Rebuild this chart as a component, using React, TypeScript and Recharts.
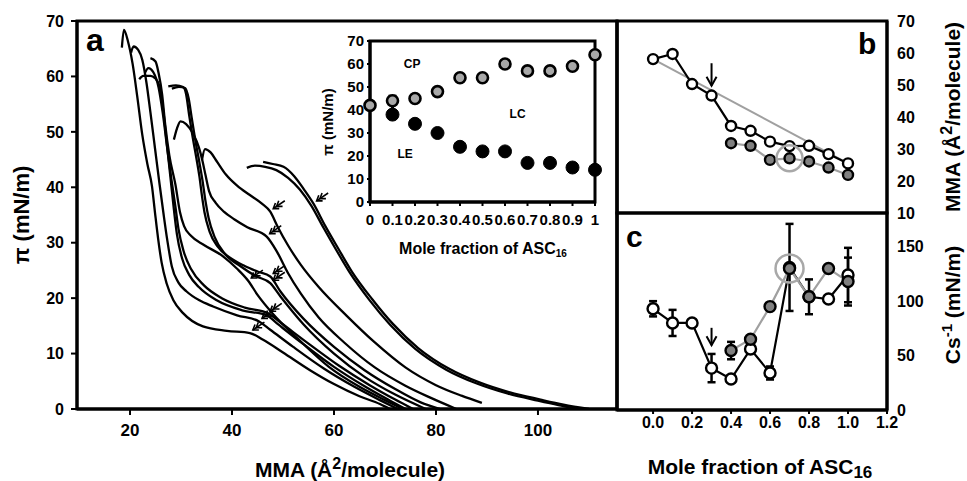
import React from "react";
import { LineChart, Line, XAxis, YAxis, ReferenceDot, ReferenceLine, ReferenceArea, ErrorBar } from "recharts";

// panel a: surface pressure–area isotherms, [MMA, pi]
const iso1 = [[18.4, 65.2], [18.8, 68.4], [19.6, 66.3], [20.5, 62.3], [21.4, 56.5], [22.4, 49.5], [23.4, 44.2], [24.3, 40.2], [24.9, 35.4], [25.5, 30.8], [26.2, 26.4], [27.2, 22.6], [28.5, 19.6], [30.4, 17.3], [34.3, 14.9], [39, 14.1], [43.5, 13.7], [46.1, 12.5], [50, 10.2], [55.3, 7.0], [60, 4.5], [65, 2.3], [69, 0.9], [71, 0]];
const iso2 = [[20.2, 64.3], [20.7, 65.4], [21.6, 64.8], [22.4, 63], [23.2, 59], [24, 53.5], [24.9, 47], [25.8, 40.5], [26.6, 35], [27.3, 30.5], [28.2, 25.7], [29.5, 22.8], [31.1, 21.2], [33.6, 19.6], [36.3, 18.5], [41, 16.9], [45.3, 15.8], [47.5, 14.3], [52, 11.2], [58, 7.3], [64, 4], [69, 1.6], [72.5, 0]];
const iso3 = [[21.8, 59.5], [22.6, 60.1], [24, 60.1], [24.9, 59.7], [25.8, 58.2], [26.5, 54], [27.2, 48], [27.9, 42], [28.6, 36], [29.2, 31.5], [30.2, 27.2], [31.6, 24.2], [33.5, 22], [37, 19.6], [42, 17.8], [46.8, 16.9], [49, 15.3], [54, 11.7], [60, 7.6], [66, 4.1], [71, 1.5], [74, 0]];
const iso4 = [[22.9, 60.6], [23.6, 61.5], [24.6, 60.7], [25.6, 58], [26.4, 53.5], [27.3, 47], [28.1, 41.5], [28.9, 36.5], [29.5, 32.5], [30.5, 28.5], [32, 25.2], [34.5, 22.3], [38, 20], [42.5, 18.3], [47, 17.3], [49.5, 15.6], [55, 11.8], [61, 7.8], [67, 4.3], [72, 1.7], [75.5, 0]];
const iso5 = [[24, 63.3], [25, 62.7], [25.6, 60.6], [26.3, 56.7], [26.9, 51.3], [27.7, 45.8], [28.9, 40.5], [29.8, 35.5], [30.6, 33], [32, 31.2], [34.5, 29.6], [38.3, 27.5], [41, 25.3], [43.2, 23.1], [45, 20.6], [48, 17.2], [53, 12.6], [59, 7.6], [65, 4], [70, 1.6], [73.5, 0]];
const iso6 = [[27.5, 58.2], [29, 58.4], [30.4, 58.1], [31, 56.8], [31.6, 53], [32.2, 49.5], [33, 45.3], [33.6, 42], [34.1, 38.5], [34.6, 35.5], [35.6, 32], [37.2, 29.3], [39.6, 27.3], [42.5, 25.8], [45, 24.8], [47.5, 23.9], [49.5, 21.2], [54, 16.3], [60, 11.2], [66, 7], [72, 3.6], [77, 1.2], [80.8, 0]];
const iso7 = [[28.2, 57.8], [29.6, 58.1], [30.8, 57.9], [31.5, 56], [32.1, 52.5], [32.8, 48.5], [33.6, 44.5], [34.2, 41.3], [34.8, 37.5], [35.4, 34.5], [36.6, 31], [38.6, 28], [41.6, 25.8], [44.6, 24], [47.5, 22.7], [49.5, 20.3], [54, 15.3], [60, 10], [66, 5.8], [72, 2.6], [78, 0]];
const iso8 = [[28.6, 48.6], [29.2, 50.6], [29.9, 51.9], [31, 51.4], [32.4, 49.6], [33.5, 47.2], [34.2, 44.8], [34.8, 42.2], [35.5, 39.3], [36.8, 37.2], [38.4, 35.6], [40.5, 34.2], [43, 32.8], [46.8, 31.1], [48.8, 28.4], [51, 24.5], [53.5, 20.8], [57, 16.5], [62, 12], [68, 7.5], [74, 4.2], [79, 2], [84, 0]];
const iso9 = [[34.1, 44.9], [34.7, 46.9], [35.8, 46.3], [37, 44.7], [38.8, 42.3], [41, 40.3], [43.5, 38.6], [45.8, 37.1], [47.5, 35.6], [49, 32.8], [51, 29.5], [53.5, 26], [57, 22], [62.5, 16.8], [68, 12], [74, 7.5], [80, 4.3], [85, 2.4], [89, 1.1]];
const iso10 = [[42.9, 43.5], [44.5, 43.9], [46.5, 43.7], [48.7, 43.1], [51, 41.7], [53.3, 39.6], [55.6, 36.6], [58, 32.6], [60.5, 28.6], [63.1, 24.6], [67, 19.6], [71, 15.2], [76, 10.8], [82, 7.1], [88, 4.6], [94, 2.8], [100, 1.5], [104, 0.7], [108, 0]];
const iso11 = [[46.1, 44.6], [48, 44.2], [50.1, 43.7], [52.2, 42], [54.2, 39.5], [56, 37], [58.3, 33], [60.8, 29], [63.5, 24.8], [67.5, 19.8], [71.5, 15.4], [76.5, 11], [82.5, 7.3], [88.5, 4.8], [94.5, 3], [100.5, 1.7], [105, 0.8], [110, 0]];
const isotherms = [iso1, iso2, iso3, iso4, iso5, iso6, iso7, iso8, iso9, iso10, iso11];
// LE-LC kinks marked with arrows
const kinks = [[43.5, 13.7], [45.3, 15.8], [46.9, 17.1], [43.2, 23.1], [47.5, 23.9], [47.5, 22.7], [46.8, 31.1], [47.5, 35.6], [56, 37]];

// inset
const fracs = [0, 0.1, 0.2, 0.3, 0.4, 0.5, 0.6, 0.7, 0.8, 0.9, 1.0];
const cpPi = [42, 44, 45, 48, 54, 54, 60, 57, 57, 59, 64];
const lePi = [38, 34, 30, 24, 22, 22, 17, 17, 15, 14]; // 0.1 .. 1.0
const leErr = [8, 0, 0, 0, 0, 0, 0, 0, 0, 0];

// panel b
const mmaMix = [58.1, 59.7, 50.3, 46.7, 37.2, 35.7, 32.3, 30.9, 31.0, 28.4, 25.5];
const mmaLow = [31.8, 31.0, 26.6, 27.1, 26.1, 24.2, 21.9]; // 0.4 .. 1.0

// panel c
const csOpen = [93, 80, 80, 38.5, 28.5, 56, 34, 131, 104, 102, 124];
const csOpenErr = [7, 12, 0, 13, 0, 0, 6, 40, 16, 0, 25];
const csGray = [54.6, 65, 95, 130, 104, 130, 118]; // 0.4 .. 1.0
const csGrayErr = [8, 0, 0, 0, 0, 0, 22];

const W = 967;
const H = 481;
const FONT = '"Liberation Sans", Arial, Helvetica, sans-serif';
const AX = { stroke: "#000", strokeWidth: 3 };
const TL = { stroke: "#000", strokeWidth: 2 };
const tickFont = (fs: number) => ({ fill: "#000", fontSize: fs, fontWeight: "bold" });

const pts = (arr: number[][]) => arr.map(([x, y]) => ({ x, y }));
const insetCp = fracs.map((x, i) => ({ x, y: cpPi[i] }));
const insetLe = fracs.slice(1).map((x, i) => ({ x, y: lePi[i], err: [0, leErr[i]] }));
const bMix = fracs.map((x, i) => ({ x, y: mmaMix[i] }));
const bLow = fracs.slice(4).map((x, i) => ({ x, y: mmaLow[i] }));
const bIdeal = [{ x: 0, y: mmaMix[0] }, { x: 1, y: mmaMix[10] }];
const cOpen = fracs.map((x, i) => ({ x, y: csOpen[i], err: csOpenErr[i] }));
const cGray = fracs.slice(4).map((x, i) => ({ x, y: csGray[i], err: csGrayErr[i] }));

const abs: React.CSSProperties = { position: "absolute", left: 0, top: 0 };

function KinkArrow(props: any) {
  const { cx, cy } = props;
  const tx = cx + 3;
  const ty = cy - 3;
  const a = -0.6;
  const dx = Math.cos(a);
  const dy = Math.sin(a);
  const head = (px: number, py: number) => {
    const h = 6;
    const s = 0.6;
    return `M${px + h * Math.cos(a + s)},${py + h * Math.sin(a + s)} L${px},${py} L${px + h * Math.cos(a - s)},${py + h * Math.sin(a - s)} `;
  };
  return (
    <g fill="none" stroke="#000" strokeWidth={1.6}>
      <path d={`M${tx},${ty} L${tx + 14 * dx},${ty + 14 * dy}`} />
      <path d={head(tx, ty) + head(tx + 4 * dx, ty + 4 * dy)} />
    </g>
  );
}

function DownHead(props: any) {
  const { cx, cy } = props;
  return <path d={`M${cx - 5},${cy - 9} L${cx},${cy} L${cx + 5},${cy - 9}`} fill="none" stroke="#000" strokeWidth={2} />;
}

const mkDot = (fill: string, r: number, sw: number, tag: string) => (p: any) =>
  p.cx == null || p.cy == null ? null : (
    <circle key={`${tag}-${p.index}`} cx={p.cx} cy={p.cy} r={r} fill={fill} stroke="#000" strokeWidth={sw} />
  );

function PanelA() {
  return (
    <div style={abs}>
      <LineChart width={W} height={H} margin={{ top: 21, right: 350, bottom: 32, left: 17 }}>
        <XAxis type="number" dataKey="x" domain={[9.6, 115.5]} allowDataOverflow ticks={[20, 40, 60, 80, 100]} interval={0} height={40} stroke="#000" axisLine={AX} tickLine={TL} tickSize={6} tickMargin={9} tick={tickFont(17)} />
        <YAxis type="number" domain={[0, 70]} allowDataOverflow ticks={[0, 10, 20, 30, 40, 50, 60, 70]} interval={0} width={60} stroke="#000" axisLine={AX} tickLine={TL} tickSize={6} tickMargin={7} tick={tickFont(16)} />
        <ReferenceArea x1={9.6} x2={115.5} y1={0} y2={70} fill="none" stroke="#000" strokeWidth={3} />
        {isotherms.map((d, i) => (
          <Line key={`iso-${i}`} data={pts(d)} dataKey="y" type="monotone" stroke="#000" strokeWidth={2.3} dot={false} isAnimationActive={false} />
        ))}
        {kinks.map(([x, y], i) => (
          <ReferenceDot key={`k-${i}`} x={x} y={y} r={0} shape={KinkArrow} />
        ))}
      </LineChart>
    </div>
  );
}

function Inset() {
  return (
    <div style={abs}>
      <LineChart width={W} height={H} margin={{ top: 41, right: 372, bottom: 249, left: 330 }}>
        <XAxis type="number" dataKey="x" domain={[0, 1]} ticks={fracs} interval={0} height={30} stroke="#000" axisLine={AX} tickLine={TL} tickSize={4} tickMargin={8} tick={tickFont(15)} tickFormatter={(v: number) => (v === 0 ? "0" : v === 1 ? "1" : v.toFixed(1))} />
        <YAxis type="number" domain={[0, 70]} ticks={[0, 10, 20, 30, 40, 50, 60, 70]} interval={0} width={40} stroke="#000" axisLine={AX} tickLine={TL} tickSize={3} tickMargin={3} tick={tickFont(15)} />
        <ReferenceArea x1={0} x2={1} y1={0} y2={70} fill="none" stroke="#000" strokeWidth={3} />
        <Line data={insetCp} dataKey="y" stroke="none" dot={mkDot("#a8a8a8", 5.5, 2.6, "cp")} isAnimationActive={false} />
        <Line data={insetLe} dataKey="y" stroke="none" dot={mkDot("#000", 6.5, 1, "le")} isAnimationActive={false}>
          <ErrorBar dataKey="err" width={4} stroke="#000" strokeWidth={3} />
        </Line>
        <ReferenceDot x={0.187} y={60} r={0} label={{ value: "CP", position: "center", fill: "#000", fontSize: 12, fontWeight: "bold" }} />
        <ReferenceDot x={0.656} y={38.3} r={0} label={{ value: "LC", position: "center", fill: "#000", fontSize: 12, fontWeight: "bold" }} />
        <ReferenceDot x={0.156} y={20.9} r={0} label={{ value: "LE", position: "center", fill: "#000", fontSize: 12, fontWeight: "bold" }} />
      </LineChart>
    </div>
  );
}

const bcTicks = [0, 0.2, 0.4, 0.6, 0.8, 1.0];
const bcDomain = [-0.185, 1.2];

function PanelB() {
  return (
    <div style={abs}>
      <LineChart width={W} height={H} margin={{ top: 21, right: 40, bottom: 268, left: 616 }}>
        <XAxis type="number" dataKey="x" domain={bcDomain} allowDataOverflow ticks={bcTicks} interval={0} height={0} mirror tick={false} stroke="#000" axisLine={AX} tickLine={TL} tickSize={5} />
        <YAxis yAxisId="L" type="number" domain={[10, 70]} ticks={[20, 30, 40, 50, 60]} interval={0} width={1} tick={false} stroke="#000" axisLine={AX} tickLine={TL} tickSize={5} />
        <YAxis yAxisId="R" orientation="right" type="number" domain={[10, 70]} ticks={[10, 20, 30, 40, 50, 60, 70]} interval={0} width={40} stroke="#000" axisLine={AX} tickLine={false} tickSize={4} tickMargin={6} tick={tickFont(16)} />
        <ReferenceArea yAxisId="R" x1={bcDomain[0]} x2={bcDomain[1]} y1={10} y2={70} fill="none" stroke="#000" strokeWidth={3} />
        <Line yAxisId="R" data={bIdeal} dataKey="y" stroke="#a0a0a0" strokeWidth={2} dot={false} isAnimationActive={false} />
        <Line yAxisId="R" data={bLow} dataKey="y" stroke="#a0a0a0" strokeWidth={2.2} dot={mkDot("#808080", 5, 2.4, "bl")} isAnimationActive={false} />
        <Line yAxisId="R" data={bMix} dataKey="y" stroke="#000" strokeWidth={2.2} dot={mkDot("#fff", 5, 2.4, "bm")} isAnimationActive={false} />
        <ReferenceDot yAxisId="R" x={0.7} y={27.1} r={13} fill="none" stroke="#a8a8a8" strokeWidth={2.5} />
        <ReferenceLine yAxisId="R" segment={[{ x: 0.3, y: 56.8 }, { x: 0.3, y: 49.8 }]} stroke="#000" strokeWidth={2} />
        <ReferenceDot yAxisId="R" x={0.3} y={49.8} r={0} shape={DownHead} />
      </LineChart>
    </div>
  );
}

function PanelC() {
  return (
    <div style={abs}>
      <LineChart width={W} height={H} margin={{ top: 213, right: 40, bottom: 41, left: 616 }}>
        <XAxis type="number" dataKey="x" domain={bcDomain} allowDataOverflow ticks={[0, 0.2, 0.4, 0.6, 0.8, 1.0, 1.2]} interval={0} height={30} stroke="#000" axisLine={AX} tickLine={TL} tickSize={4} tickMargin={3} tick={tickFont(16)} tickFormatter={(v: number) => v.toFixed(1)} />
        <YAxis yAxisId="L" type="number" domain={[0, 181]} ticks={[50, 100, 150]} interval={0} width={1} tick={false} stroke="#000" axisLine={AX} tickLine={TL} tickSize={5} />
        <YAxis yAxisId="R" orientation="right" type="number" domain={[0, 181]} ticks={[0, 50, 100, 150]} interval={0} width={40} stroke="#000" axisLine={AX} tickLine={false} tickSize={4} tickMargin={6} tick={tickFont(16)} />
        <ReferenceArea yAxisId="R" x1={bcDomain[0]} x2={bcDomain[1]} y1={0} y2={181} fill="none" stroke="#000" strokeWidth={3} />
        <Line yAxisId="R" data={cOpen} dataKey="y" stroke="#000" strokeWidth={2.2} dot={mkDot("#fff", 5.5, 2.4, "co")} isAnimationActive={false}>
          <ErrorBar dataKey="err" width={4} stroke="#000" strokeWidth={2.5} />
        </Line>
        <Line yAxisId="R" data={cGray} dataKey="y" stroke="#a0a0a0" strokeWidth={2.2} dot={mkDot("#808080", 5.5, 2.4, "cg")} isAnimationActive={false}>
          <ErrorBar dataKey="err" width={4} stroke="#000" strokeWidth={2.5} />
        </Line>
        <ReferenceDot yAxisId="R" x={0.7} y={130} r={14} fill="none" stroke="#a8a8a8" strokeWidth={2.5} />
        <ReferenceLine yAxisId="R" segment={[{ x: 0.3, y: 75.5 }, { x: 0.3, y: 59.5 }]} stroke="#000" strokeWidth={2} />
        <ReferenceDot yAxisId="R" x={0.3} y={59.5} r={0} shape={DownHead} />
      </LineChart>
    </div>
  );
}

function Titles() {
  return (
    <svg width={W} height={H} style={{ ...abs, pointerEvents: "none" }} fontFamily={FONT} fontWeight="bold" fill="#000">
      <text x={86} y={51} fontSize={32}>a</text>
      <text x={858} y={54} fontSize={30}>b</text>
      <text x={626} y={247} fontSize={30}>c</text>
      <text transform="translate(29,215) rotate(-90)" textAnchor="middle" fontSize={22}>π (mN/m)</text>
      <text x={350} y={477} textAnchor="middle" fontSize={21}>
        MMA (Å<tspan dy={-8} fontSize={16}>2</tspan><tspan dy={8}>/molecule)</tspan>
      </text>
      <text x={760} y={474} textAnchor="middle" fontSize={21}>
        Mole fraction of ASC<tspan dy={4} fontSize={17}>16</tspan>
      </text>
      <text transform="translate(960,117) rotate(-90)" textAnchor="middle" fontSize={21}>
        MMA (Å<tspan dy={-8} fontSize={16}>2</tspan><tspan dy={8}>/molecule)</tspan>
      </text>
      <text transform="translate(960,305) rotate(-90)" textAnchor="middle" fontSize={21}>
        Cs<tspan dy={-8} fontSize={15}>-1</tspan><tspan dy={8}> (mN/m)</tspan>
      </text>
      <text x={483} y={254} textAnchor="middle" fontSize={16}>
        Mole fraction of ASC<tspan dy={3} fontSize={10}>16</tspan>
      </text>
      <text transform="translate(333,122) rotate(-90)" textAnchor="middle" fontSize={15}>π (mN/m)</text>
    </svg>
  );
}

export default function App() {
  return (
    <div style={{ ...abs, width: W, height: H, background: "#fff", fontFamily: FONT, overflow: "hidden" }}>
      <PanelA />
      <Inset />
      <PanelB />
      <PanelC />
      <Titles />
    </div>
  );
}
